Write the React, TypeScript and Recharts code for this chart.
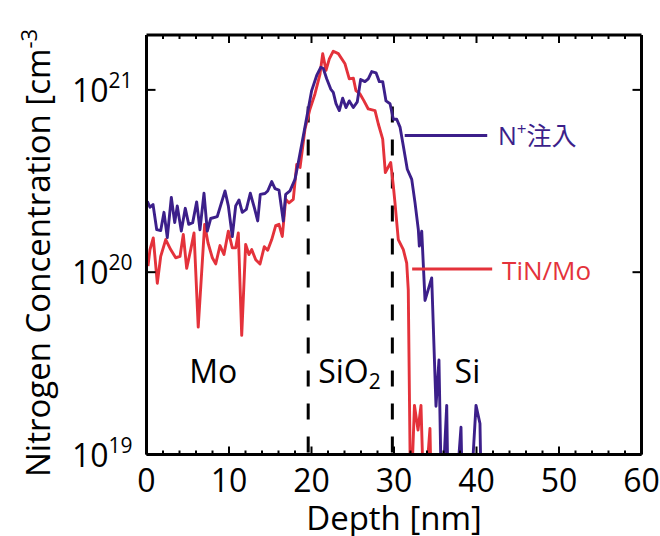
import React from 'react';
import { LineChart, Line, XAxis, YAxis, ReferenceLine, ReferenceDot } from 'recharts';

// N+ implanted sample (purple)
const implantDepth = [
  0.10, 0.42, 0.79, 1.24, 1.72, 2.12, 2.52, 3.01, 3.42, 3.73,
  4.22, 4.70, 5.12, 5.60, 6.08, 6.48, 6.97, 7.37, 7.78, 8.58,
  9.52, 9.92, 10.40, 10.81, 11.21, 11.61, 12.10, 12.58, 13.07, 13.48,
  13.79, 14.36, 14.69, 15.18, 15.58, 16.06, 16.58, 16.87, 17.39, 18.00,
  18.40, 19.01, 19.61, 20.02, 20.63, 21.12, 21.43, 21.84, 22.33, 22.64,
  22.97, 23.37, 23.78, 24.18, 24.58, 25.07, 25.55, 25.96, 26.48, 26.88,
  27.30, 27.82, 28.22, 28.63, 29.03, 29.52, 29.92, 30.33, 30.73, 31.13,
  31.61, 32.15, 32.55, 32.95, 33.07, 33.36, 33.76, 34.57, 35.09, 35.45,
  35.78, 36.39, 36.58, 37.39, 38.12, 38.33, 39.21, 39.94, 40.42, 40.61,
];
const implantConc = [
  2.45e20, 2.27e20, 2.35e20, 1.71e20, 1.69e20, 2.13e20, 1.55e20, 2.57e20, 1.87e20, 2.31e20,
  1.68e20, 2.24e20, 1.83e20, 1.87e20, 2.43e20, 1.71e20, 2.71e20, 1.68e20, 1.97e20, 2.02e20,
  2.79e20, 2.31e20, 1.57e20, 2.31e20, 2.49e20, 2.13e20, 2.21e20, 2.71e20, 2.26e20, 1.91e20,
  2.67e20, 2.70e20, 2.79e20, 3.14e20, 2.87e20, 2.82e20, 1.91e20, 2.67e20, 2.79e20, 3.23e20,
  4.0e20, 5.6e20, 7.86e20, 9.91e20, 1.2e21, 1.33e21, 1.31e21, 1.15e21, 1.01e21, 9.7e20,
  8.4e20, 7.7e20, 9.0e20, 8.0e20, 8.7e20, 8.0e20, 8.6e20, 1.14e21, 1.11e21, 1.15e21,
  1.26e21, 1.24e21, 1.11e21, 1.11e21, 8.7e20, 8.4e20, 6.9e20, 6.9e20, 6.25e20, 4.93e20,
  3.67e20, 3.23e20, 2.4e20, 1.71e20, 1.39e20, 1.68e20, 7.0e19, 9.3e19, 1.84e19, 3.3e19,
  5e18, 1.86e19, 5e18, 5e18, 1.41e19, 5e18, 5e18, 1.86e19, 1.48e19, 5e18,
];

// TiN/Mo sample (red)
const tinDepth = [
  0.18, 0.42, 0.82, 1.31, 1.72, 2.33, 2.93, 3.54, 4.06, 4.46,
  4.87, 5.36, 5.76, 6.27, 7.05, 7.45, 7.98, 8.39, 8.91, 9.39,
  9.92, 10.40, 10.81, 11.13, 11.54, 12.02, 12.42, 12.75, 13.24, 13.76,
  14.28, 14.69, 15.18, 15.66, 16.06, 16.46, 16.87, 17.27, 17.79, 18.21,
  18.61, 19.21, 19.82, 20.42, 21.03, 21.36, 21.76, 22.16, 22.64, 23.25,
  24.06, 24.58, 25.07, 25.39, 25.88, 26.36, 26.88, 27.70, 28.10, 28.63,
  28.95, 29.60, 29.92, 30.12, 30.52, 31.13, 31.54, 31.73, 32.02, 32.48,
  32.91, 33.27, 33.64, 34.36, 34.55,
];
const tinConc = [
  1.08e20, 1.33e20, 1.54e20, 8.7e19, 1.22e20, 1.51e20, 1.33e20, 1.2e20, 1.22e20, 1.61e20,
  1.05e20, 1.33e20, 1.64e20, 5.0e19, 1.83e20, 1.45e20, 1.2e20, 1.11e20, 1.4e20, 1.25e20,
  1.68e20, 1.36e20, 1.36e20, 1.64e20, 4.5e19, 1.42e20, 1.25e20, 1.33e20, 1.17e20, 1.11e20,
  1.38e20, 1.32e20, 1.51e20, 1.8e20, 1.83e20, 1.57e20, 2.51e20, 2.4e20, 2.51e20, 3.9e20,
  3.75e20, 6.1e20, 7.86e20, 9.5e20, 1.22e21, 1.58e21, 1.28e21, 1.48e21, 1.63e21, 1.58e21,
  1.39e21, 1.15e21, 1.16e21, 9.9e20, 9.5e20, 8.7e20, 7.86e20, 7.7e20, 6.5e20, 5.37e20,
  3.52e20, 4.0e20, 2.97e20, 2.4e20, 1.51e20, 1.33e20, 1.12e20, 8.0e19, 5e18, 1.86e19,
  1.36e19, 1.86e19, 5e18, 1.39e19, 5e18,
];

const depthTicks = [0, 2, 4, 6, 8, 10, 12, 14, 16, 18, 20, 22, 24, 26, 28, 30, 32, 34, 36, 38, 40, 42, 44, 46, 48, 50, 52, 54, 56, 58, 60];
const concTicks = [1e19, 1e20, 1e21];

const implantData = implantDepth.map((d, i) => ({ depth: d, conc: implantConc[i] }));
const tinData = tinDepth.map((d, i) => ({ depth: d, conc: tinConc[i] }));

const BLUE = '#3c1f8a';
const RED = '#e4323b';
const FONT = "'Open Sans', 'Noto Sans CJK JP', sans-serif";

function BottomTick({ x, y, payload }: any) {
  const major = payload.value % 10 === 0;
  return (
    <g>
      <line x1={x} x2={x} y1={y} y2={y - (major ? 8 : 4)} stroke="#000" strokeWidth={2} />
      {major && (
        <text x={x} y={y + 37} textAnchor="middle" fontSize={32} fontFamily={FONT} fill="#000">
          {payload.value}
        </text>
      )}
    </g>
  );
}

function TopTick({ x, y, payload }: any) {
  const major = payload.value % 10 === 0;
  return <line x1={x} x2={x} y1={y} y2={y + (major ? 8 : 4)} stroke="#000" strokeWidth={2} />;
}

function LeftTick({ x, y, payload }: any) {
  const exp = Math.round(Math.log10(payload.value));
  return (
    <g>
      <line x1={x} x2={x + 9} y1={y} y2={y} stroke="#000" strokeWidth={2} />
      <text x={x - 14} y={y + 12} textAnchor="end" fontSize={32} fontFamily={FONT} fill="#000">
        10<tspan dy={-14} fontSize={21}>{exp}</tspan>
      </text>
    </g>
  );
}

function RightTick({ x, y }: any) {
  return <line x1={x} x2={x - 9} y1={y} y2={y} stroke="#000" strokeWidth={2} />;
}

// places a text element at the point a ReferenceDot (r = 0) sits on
const textAt = (render: (x: number, y: number) => React.ReactNode) => (props: any) => {
  const vb = props.viewBox || { x: 0, y: 0 };
  return render(vb.x, vb.y);
};

export default function App() {
  const frame = { stroke: '#000', strokeWidth: 3 };
  return (
    <div style={{ position: 'absolute', left: 0, top: 0, background: '#fff' }}>
      <LineChart width={660} height={536} margin={{ top: 34, right: 17.5, bottom: 21.5, left: 0 }}>
        <XAxis
          type="number"
          dataKey="depth"
          domain={[0, 60]}
          ticks={depthTicks}
          interval={0}
          height={60}
          tickLine={false}
          tickSize={0}
          tickMargin={0}
          tick={(p: any) => <BottomTick {...p} />}
          axisLine={frame}
          allowDataOverflow
          label={(p: any) => {
            const vb = p.viewBox;
            return (
              <text x={vb.x + vb.width / 2} y={vb.y + 75} textAnchor="middle" fontSize={33} fontFamily={FONT} fill="#000">
                Depth [nm]
              </text>
            );
          }}
        />
        <XAxis
          xAxisId="top"
          orientation="top"
          type="number"
          dataKey="depth"
          domain={[0, 60]}
          ticks={depthTicks}
          interval={0}
          height={1}
          tickLine={false}
          tickSize={0}
          tickMargin={0}
          tick={(p: any) => <TopTick {...p} />}
          axisLine={frame}
          allowDataOverflow
        />
        <YAxis
          scale="log"
          type="number"
          domain={[1e19, 2e21]}
          ticks={concTicks}
          interval={0}
          width={146.5}
          tickLine={false}
          tickSize={0}
          tickMargin={0}
          tick={(p: any) => <LeftTick {...p} />}
          axisLine={frame}
          allowDataOverflow
          label={(p: any) => {
            const vb = p.viewBox;
            const tx = vb.x + 50;
            const ty = vb.y + vb.height + 22.5;
            return (
              <text x={tx} y={ty} transform={`rotate(-90, ${tx}, ${ty})`} fontSize={33} fontFamily={FONT} fill="#000">
                Nitrogen Concentration [cm<tspan dy={-13} fontSize={22}>-3</tspan>
              </text>
            );
          }}
        />
        <YAxis
          yAxisId="right"
          orientation="right"
          scale="log"
          type="number"
          domain={[1e19, 2e21]}
          ticks={concTicks}
          interval={0}
          width={1}
          tickLine={false}
          tickSize={0}
          tickMargin={0}
          tick={(p: any) => <RightTick {...p} />}
          axisLine={frame}
          allowDataOverflow
        />

        <ReferenceLine
          segment={[{ x: 19.6, y: 8.1e20 }, { x: 19.6, y: 1e19 }]}
          stroke="#000"
          strokeWidth={3}
          strokeDasharray="16 17"
        />
        <ReferenceLine
          segment={[{ x: 29.8, y: 8.1e20 }, { x: 29.8, y: 1e19 }]}
          stroke="#000"
          strokeWidth={3}
          strokeDasharray="16 17"
        />

        <Line
          data={tinData}
          dataKey="conc"
          type="linear"
          stroke={RED}
          strokeWidth={2.9}
          strokeLinejoin="round"
          dot={false}
          isAnimationActive={false}
        />
        <Line
          data={implantData}
          dataKey="conc"
          type="linear"
          stroke={BLUE}
          strokeWidth={2.9}
          strokeLinejoin="round"
          dot={false}
          isAnimationActive={false}
        />

        {/* legend callouts */}
        <ReferenceLine segment={[{ x: 31.3, y: 5.62e20 }, { x: 41.3, y: 5.62e20 }]} stroke={BLUE} strokeWidth={3} />
        <ReferenceLine segment={[{ x: 32.2, y: 1.04e20 }, { x: 41.9, y: 1.04e20 }]} stroke={RED} strokeWidth={3} />
        <ReferenceDot
          x={42.6}
          y={5.62e20}
          r={0}
          fill="none"
          stroke="none"
          label={textAt((x, y) => (
            <text x={x} y={y + 9} fontSize={25} fontFamily={FONT} fill={BLUE}>
              N<tspan dy={-10} fontSize={17}>+</tspan><tspan dy={10}>注入</tspan>
            </text>
          ))}
        />
        <ReferenceDot
          x={43.1}
          y={1.04e20}
          r={0}
          fill="none"
          stroke="none"
          label={textAt((x, y) => (
            <text x={x} y={y + 11} fontSize={26} fontFamily={FONT} fill={RED}>
              TiN/Mo
            </text>
          ))}
        />

        {/* layer names */}
        <ReferenceDot
          x={8.1}
          y={2.46e19}
          r={0}
          fill="none"
          stroke="none"
          label={textAt((x, y) => (
            <text x={x} y={y} textAnchor="middle" fontSize={32} fontFamily={FONT} fill="#000">Mo</text>
          ))}
        />
        <ReferenceDot
          x={24.6}
          y={2.46e19}
          r={0}
          fill="none"
          stroke="none"
          label={textAt((x, y) => (
            <text x={x} y={y} textAnchor="middle" fontSize={32} fontFamily={FONT} fill="#000">
              SiO<tspan dy={6} fontSize={21}>2</tspan>
            </text>
          ))}
        />
        <ReferenceDot
          x={38.9}
          y={2.46e19}
          r={0}
          fill="none"
          stroke="none"
          label={textAt((x, y) => (
            <text x={x} y={y} textAnchor="middle" fontSize={32} fontFamily={FONT} fill="#000">Si</text>
          ))}
        />
      </LineChart>
    </div>
  );
}
